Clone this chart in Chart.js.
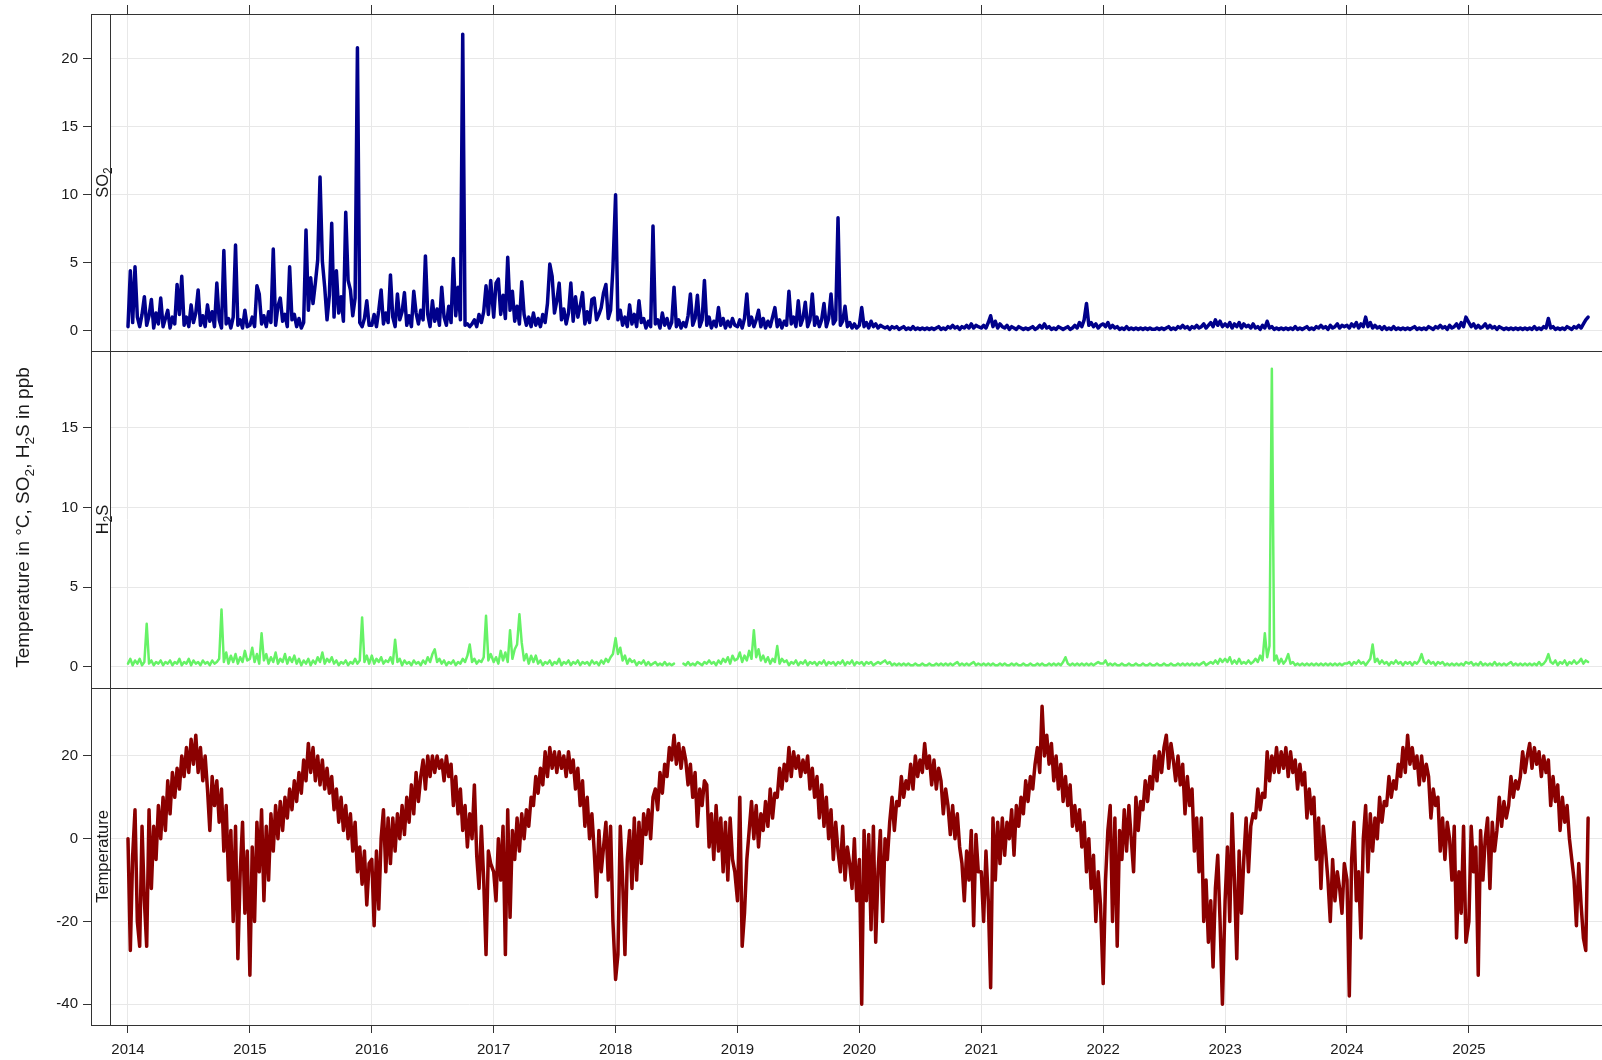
<!DOCTYPE html>
<html>
<head>
<meta charset="utf-8">
<title>Temperature, SO2 and H2S</title>
<script src="https://cdn.jsdelivr.net/npm/chart.js@4.4.1/dist/chart.umd.min.js"></script>
<style>
  html, body { margin: 0; padding: 0; background: #fff; }
  #wrap { width: 1602px; height: 1060px; }
</style>
</head>
<body>
<div id="wrap"><canvas id="chart" width="1602" height="1060"></canvas></div>
<script>
// weekly values (52 per year)
const years = [2014, 2015, 2016, 2017, 2018, 2019, 2020, 2021, 2022, 2023, 2024, 2025];
const yearTicks = [2014, 2015, 2016, 2017, 2018, 2019, 2020, 2021, 2022, 2023, 2024, 2025];
const so2Ticks = [0, 5, 10, 15, 20];
const h2sTicks = [0, 5, 10, 15];
const tempTicks = [-40, -20, 0, 20];

// SO2 (ppb)
const so2_2014 = [0.3,4.4,0.6,4.7, 1.0,0.3,1.2,2.5, 0.4,1.1,2.3,0.2,1.3, 0.5,2.4,0.3,0.9, 1.5,0.2,1.0,0.5,3.4, 1.2,4.0,0.4,1.0, 0.3,1.9,0.6,1.3,3.0, 0.4,1.1,0.3,1.9, 0.7,1.4,0.3,3.5, 0.8,0.2,5.9,0.5,0.9, 0.2,1.0,6.3,0.4, 0.8,0.2,1.5,0.3];
const so2_2015 = [0.4,1.0,0.3,3.3, 2.7,0.5,1.1,0.3, 1.4,0.6,6.0,0.4,1.8, 2.4,0.7,1.2,0.3, 4.7,0.8,1.2,0.3,0.9, 0.2,0.6,7.4,1.5, 3.9,2.0,3.5,5.2,11.3, 5.1,3.2,0.8,2.6, 7.9,1.0,4.4,1.3, 2.5,0.7,8.7,3.7,3.0, 1.1,2.4,20.8,0.6, 0.3,0.9,2.2,0.4];
const so2_2016 = [0.4,1.2,0.3,1.5, 3.0,0.5,1.3,0.6, 4.1,1.0,0.3,2.7,0.8, 1.4,2.8,0.4,1.1, 0.3,2.9,1.3,0.5,1.5, 0.8,5.5,1.2,0.3, 2.2,0.7,1.6,0.4,3.2, 1.0,0.4,1.8,0.6, 5.3,1.1,3.2,0.8, 21.8,0.4,0.5,0.3,0.5, 0.8,0.3,1.2,0.6, 1.4,3.3,1.2,3.7];
const so2_2017 = [1.0,3.5,3.8,1.2, 2.6,0.9,5.4,1.5, 2.9,0.7,1.8,0.5,3.6, 1.2,0.4,1.0,0.3, 1.3,0.4,0.9,0.3,1.2, 0.6,2.0,4.9,4.0, 1.3,2.2,3.5,0.8,1.6, 0.5,1.3,3.5,0.7, 2.5,1.0,1.8,2.8, 0.5,1.4,0.6,2.3,2.4, 0.8,1.2,1.7,2.8, 3.4,0.9,1.5,4.6];
const so2_2018 = [10.0,0.8,1.5,0.4, 1.0,0.3,1.9,0.5, 1.2,0.3,2.2,0.6,0.9, 0.2,0.7,0.3,7.7, 0.5,0.8,0.2,1.3,0.4, 0.9,0.2,0.6,3.2, 0.3,0.8,0.2,0.6,0.3, 1.1,2.7,0.4,0.9, 2.6,0.3,0.8,3.7, 0.4,1.0,0.2,0.7,0.3, 1.7,0.4,0.9,0.2, 0.7,0.3,0.9,0.4];
const so2_2019 = [0.3,0.8,0.2,0.9, 2.7,0.4,1.0,0.3, 0.8,1.5,0.3,0.9,0.2, 0.7,0.3,1.0,1.7, 0.3,0.8,0.2,0.7,0.4, 2.9,0.5,1.0,0.3, 2.2,0.4,0.9,2.1,0.3, 0.8,2.7,0.4,1.0, 0.3,0.8,2.0,0.3, 0.9,2.7,0.5,0.8,8.3, 0.4,0.7,1.8,0.3, 0.6,0.2,0.5,0.2];
const so2_2020 = [0.4,1.7,0.3,0.6, 0.2,0.7,0.3,0.5, 0.2,0.4,0.3,0.2,0.3, 0.1,0.3,0.2,0.3, 0.1,0.2,0.3,0.1,0.2, 0.1,0.3,0.1,0.2, 0.1,0.2,0.1,0.2,0.1, 0.2,0.1,0.2,0.3, 0.1,0.2,0.1,0.3, 0.2,0.4,0.2,0.3,0.1, 0.3,0.2,0.4,0.2, 0.5,0.2,0.4,0.3];
const so2_2021 = [0.2,0.4,0.2,0.6, 1.1,0.3,0.7,0.2, 0.5,0.3,0.2,0.4,0.1, 0.3,0.2,0.1,0.3, 0.2,0.1,0.2,0.1,0.2, 0.3,0.1,0.2,0.4, 0.2,0.5,0.2,0.3,0.1, 0.2,0.1,0.3,0.2, 0.1,0.2,0.3,0.1, 0.2,0.4,0.2,0.6,0.3, 0.8,2.0,0.4,0.6, 0.3,0.5,0.2,0.4];
const so2_2022 = [0.5,0.3,0.6,0.2, 0.4,0.2,0.3,0.1, 0.2,0.1,0.3,0.1,0.2, 0.1,0.2,0.1,0.2, 0.1,0.2,0.1,0.2,0.1, 0.1,0.2,0.1,0.2, 0.1,0.2,0.3,0.1,0.2, 0.1,0.3,0.2,0.4, 0.2,0.3,0.1,0.3, 0.2,0.4,0.2,0.3,0.5, 0.2,0.4,0.6,0.3, 0.8,0.4,0.7,0.3];
const so2_2023 = [0.5,0.3,0.6,0.2, 0.5,0.3,0.6,0.2, 0.5,0.3,0.4,0.2,0.5, 0.2,0.3,0.1,0.4, 0.2,0.7,0.2,0.3,0.1, 0.2,0.1,0.2,0.1, 0.2,0.1,0.2,0.1,0.3, 0.1,0.2,0.1,0.2, 0.3,0.1,0.2,0.1, 0.3,0.2,0.4,0.2,0.3, 0.1,0.4,0.2,0.3, 0.5,0.2,0.4,0.3];
const so2_2024 = [0.4,0.2,0.5,0.3, 0.6,0.2,0.5,0.3, 1.0,0.3,0.6,0.2,0.4, 0.2,0.3,0.1,0.3, 0.1,0.2,0.1,0.3,0.1, 0.2,0.1,0.2,0.1, 0.2,0.1,0.2,0.3,0.1, 0.2,0.1,0.2,0.1, 0.3,0.2,0.1,0.3, 0.2,0.4,0.2,0.3,0.1, 0.4,0.2,0.3,0.5, 0.2,0.6,0.3,1.0];
const so2_2025 = [0.6,0.3,0.5,0.2, 0.4,0.2,0.3,0.5, 0.2,0.4,0.2,0.3,0.1, 0.3,0.2,0.1,0.2, 0.1,0.2,0.1,0.2,0.1, 0.2,0.1,0.2,0.1, 0.2,0.1,0.3,0.1,0.2, 0.1,0.3,0.2,0.9, 0.2,0.3,0.1,0.2, 0.1,0.2,0.1,0.3,0.2, 0.1,0.3,0.2,0.4, 0.2,0.5,0.8,1.0];

// H2S (ppb), null = no data
const h2s_2014 = [0.2,0.5,0.1,0.4, 0.2,0.5,0.1,0.3, 2.7,0.2,0.4,0.1,0.3, 0.2,0.4,0.1,0.3, 0.2,0.4,0.1,0.3,0.2, 0.5,0.1,0.3,0.2, 0.5,0.1,0.4,0.2,0.3, 0.1,0.4,0.2,0.3, 0.1,0.4,0.2,0.3, 0.5,3.6,0.3,0.9,0.2, 0.7,0.3,0.8,0.2, 0.6,0.3,1.0,0.4];
const h2s_2015 = [0.5,1.2,0.3,0.8, 0.2,2.1,0.4,0.8, 0.2,0.6,0.3,0.9,0.2, 0.5,0.3,0.8,0.2, 0.6,0.3,0.7,0.2,0.5, 0.1,0.4,0.2,0.5, 0.1,0.4,0.2,0.6,0.3, 0.9,0.2,0.5,0.3, 0.6,0.2,0.4,0.1, 0.3,0.2,0.4,0.1,0.3, 0.2,0.5,0.2,0.4, 3.1,0.3,0.7,0.2];
const h2s_2016 = [0.7,0.2,0.5,0.3, 0.6,0.2,0.4,0.3, 0.6,0.2,1.7,0.3,0.5, 0.1,0.4,0.2,0.3, 0.1,0.4,0.2,0.3,0.1, 0.4,0.2,0.6,0.3, 0.8,1.1,0.3,0.5,0.2, 0.4,0.1,0.3,0.2, 0.4,0.1,0.3,0.2, 0.5,0.3,0.7,1.4,0.3, 0.5,0.2,0.4,0.3, 0.6,3.2,0.4,0.8];
const h2s_2017 = [0.3,0.6,0.2,1.0, 0.4,0.9,0.3,2.3, 0.5,1.1,1.4,3.3,1.5, 0.4,0.8,0.2,0.7, 0.3,0.7,0.2,0.4,0.1, 0.3,0.2,0.4,0.1, 0.3,0.2,0.5,0.1,0.3, 0.2,0.4,0.1,0.3, 0.2,0.4,0.1,0.3, 0.2,0.3,0.1,0.4,0.2, 0.3,0.1,0.4,0.2, 0.5,0.3,0.6,0.8];
const h2s_2018 = [1.8,0.8,1.2,0.4, 0.7,0.2,0.5,0.3, 0.4,0.1,0.3,0.2,0.4, 0.1,0.3,0.1,0.2, 0.3,0.1,0.2,0.1,0.3, 0.1,0.2,0.1,0.2, null,null,null,0.2,0.1, 0.3,0.1,0.2,0.1, 0.3,0.2,0.1,0.3, 0.2,0.4,0.2,0.3,0.1, 0.4,0.2,0.5,0.3, 0.6,0.2,0.7,0.4];
const h2s_2019 = [0.5,0.9,0.3,0.7, 0.4,1.0,0.5,2.3, 0.6,1.1,0.4,0.7,0.3, 0.6,0.2,0.5,0.3, 1.3,0.2,0.5,0.3,0.4, 0.1,0.3,0.2,0.4, 0.1,0.3,0.2,0.4,0.1, 0.3,0.2,0.3,0.1, 0.3,0.2,0.4,0.1, 0.3,0.2,0.3,0.1,0.3, 0.2,0.4,0.1,0.3, 0.2,0.4,0.1,0.3];
const h2s_2020 = [0.2,0.3,0.1,0.3, 0.2,0.3,0.1,0.2, 0.3,0.2,0.3,0.4,0.2, 0.3,0.1,0.2,0.1, 0.2,0.1,0.2,0.1,0.2, 0.1,0.1,0.2,0.1, 0.1,0.2,0.1,0.1,0.2, 0.1,0.1,0.2,0.1, 0.2,0.1,0.2,0.1, 0.2,0.1,0.2,0.3,0.1, 0.2,0.1,0.2,0.1, 0.2,0.3,0.1,0.2];
const h2s_2021 = [0.1,0.2,0.1,0.2, 0.1,0.2,0.1,0.1, 0.2,0.1,0.2,0.1,0.1, 0.2,0.1,0.2,0.1, 0.1,0.2,0.1,0.1,0.2, 0.1,0.1,0.2,0.1, 0.2,0.1,0.1,0.2,0.1, 0.2,0.1,0.2,0.1, 0.3,0.6,0.2,0.1, 0.2,0.1,0.2,0.1,0.2, 0.1,0.2,0.1,0.2, 0.1,0.2,0.3,0.2];
const h2s_2022 = [0.2,0.4,0.1,0.2, 0.1,0.2,0.1,0.1, 0.2,0.1,0.1,0.2,0.1, 0.1,0.2,0.1,0.1, 0.2,0.1,0.1,0.2,0.1, 0.1,0.2,0.1,0.1, 0.2,0.1,0.1,0.2,0.1, 0.1,0.2,0.1,0.2, 0.1,0.2,0.1,0.2, 0.1,0.2,0.1,0.2,0.3, 0.1,0.2,0.3,0.2, 0.4,0.2,0.5,0.3];
const h2s_2023 = [0.5,0.3,0.6,0.2, 0.4,0.2,0.5,0.2, 0.3,0.2,0.4,0.2,0.3, 0.5,0.3,0.7,0.4, 2.1,0.6,1.3,18.7,0.4, 0.7,0.2,0.5,0.2, 0.4,0.8,0.2,0.3,0.1, 0.2,0.1,0.2,0.1, 0.2,0.1,0.2,0.1, 0.2,0.1,0.2,0.1,0.2, 0.1,0.2,0.1,0.2, 0.1,0.2,0.1,0.2];
const h2s_2024 = [0.2,0.3,0.1,0.3, 0.2,0.4,0.2,0.3, 0.1,0.3,0.5,1.4,0.3, 0.5,0.2,0.4,0.2, 0.3,0.1,0.3,0.2,0.4, 0.2,0.3,0.1,0.3, 0.2,0.3,0.1,0.3,0.2, 0.4,0.8,0.3,0.2, 0.4,0.2,0.3,0.1, 0.3,0.2,0.3,0.1,0.2, 0.1,0.2,0.1,0.2, 0.1,0.2,0.1,0.3];
const h2s_2025 = [0.2,0.3,0.1,0.2, 0.1,0.3,0.1,0.2, 0.1,0.2,0.1,0.3,0.1, 0.2,0.1,0.2,0.1, 0.2,0.3,0.1,0.2,0.1, 0.2,0.1,0.2,0.1, 0.2,0.1,0.2,0.1,0.3, 0.1,0.2,0.4,0.8, 0.3,0.2,0.4,0.1, 0.3,0.2,0.4,0.1,0.3, 0.2,0.4,0.2,0.3, 0.5,0.2,0.4,0.3];

// Temperature (°C)
const temp_2014 = [0,-27,-4,7, -20,-26,3,-15, -26,7,-12,3,-5, 8,0,10,2, 14,6,16,10,17, 12,20,15,22, 16,24,18,25,16, 22,14,20,12, 2,15,8,14, 4,12,-3,8,-10, 2,-20,3,-29, -8,4,-18,-3];
const temp_2015 = [-33,-2,-20,4, -8,7,-15,3, -10,6,-3,8,0, 9,2,10,5, 12,7,14,9,16, 11,19,14,23, 16,22,14,20,13, 19,12,17,11, 15,7,12,4, 10,2,8,0,6, -3,4,-8,-2, -11,-3,-16,-6];
const temp_2016 = [-5,-21,-3,-17, 0,7,-8,5, -6,5,-3,6,0, 8,1,10,4, 13,6,16,9,15, 19,12,20,15, 20,16,20,17,19, 14,20,15,18, 8,15,6,12, 2,8,-2,6,0, 13,-4,-12,3, -10,-28,-3,-6];
const temp_2017 = [-8,-15,0,-10, 3,-28,7,-19, 2,-5,5,-3,6, 0,7,3,10, 8,15,11,17,13, 21,15,22,17, 21,16,21,17,20, 15,21,16,19, 12,17,8,14, 3,10,0,6,-3, -14,2,-8,-2, 4,-10,3,-20];
const temp_2018 = [-34,-28,3,-10, -28,-5,2,-12, 5,-10,4,-6,6, 1,7,0,10, 12,7,16,11,18, 15,22,19,25, 18,23,17,22,19, 13,18,10,16, 3,12,8,14, 13,-2,6,-5,8, -3,5,-8,4, -10,5,-5,-8];
const temp_2019 = [-15,10,-26,-18, -5,2,9,0, 8,-2,6,2,9, 3,12,5,11, 10,17,12,18,14, 22,15,21,17, 20,15,19,16,20, 12,17,10,15, 5,13,3,10, 0,7,-5,4,-3, -8,3,-10,-2, -6,-12,0,-15];
const temp_2020 = [-5,-40,2,-15, 1,-22,3,-25, -8,2,-20,0,-5, 4,10,2,9, 8,15,10,14,12, 18,12,20,15, 19,16,23,17,20, 13,19,12,17, 14,6,12,8, 1,8,0,6,-2, -6,-15,-3,-10, 2,-21,1,-8];
const temp_2021 = [-8,-20,-3,-15, -36,5,-10,4, -6,5,-4,4,0, 7,-4,8,3, 10,6,14,9,15, 12,18,22,16, 32,20,25,18,23, 14,20,12,18, 9,15,8,13, 3,8,2,7,-2, 4,-8,0,-12, -4,-20,-8,-16];
const temp_2022 = [-35,-10,2,8, -20,5,-26,2, -5,7,-3,8,0, -8,10,2,9, 7,14,9,15,12, 20,14,21,16, 22,25,17,23,19, 14,20,13,18, 6,15,8,12, -3,5,-8,5,-20, -10,-25,-15,-31, -12,-4,-20,-40];
const temp_2023 = [-15,-2,-20,6, -10,-29,-3,-18, -5,5,-8,3,6, 5,12,7,11, 10,21,14,20,16, 22,16,21,17, 22,15,21,16,19, 12,18,13,16, 5,12,6,10, -5,5,-12,3,-3, -10,-20,-5,-15, -8,-12,-18,-6];
const temp_2024 = [-10,-38,-5,4, -15,-8,-24,0, 8,-8,6,-3,5, 0,10,4,9, 8,15,10,14,12, 18,15,22,16, 25,18,22,17,20, 13,20,14,18, 15,5,12,8, 10,-3,5,-5,4, 0,-10,3,-24, -8,-18,3,-25];
const temp_2025 = [-20,3,-8,-2, -33,2,-10,0, 5,-12,4,-3,2, 10,3,9,5, 8,15,10,14,12, 15,21,16,20, 23,17,22,18,21, 15,20,16,19, 8,15,9,13, 2,10,4,8,0, -5,-10,-21,-6, -16,-24,-27,5];

const so2Years = [so2_2014, so2_2015, so2_2016, so2_2017, so2_2018, so2_2019, so2_2020, so2_2021, so2_2022, so2_2023, so2_2024, so2_2025];
const h2sYears = [h2s_2014, h2s_2015, h2s_2016, h2s_2017, h2s_2018, h2s_2019, h2s_2020, h2s_2021, h2s_2022, h2s_2023, h2s_2024, h2s_2025];
const tempYears = [temp_2014, temp_2015, temp_2016, temp_2017, temp_2018, temp_2019, temp_2020, temp_2021, temp_2022, temp_2023, temp_2024, temp_2025];

// week index -> decimal year
function toPoints(perYear) {
  const pts = [];
  perYear.forEach((arr, i) => {
    const yr = years[i];
    const len = (yr % 4 === 0) ? 366 : 365;
    arr.forEach((v, w) => pts.push({ x: yr + (w * 7) / len, y: v }));
  });
  return pts;
}

const FONT = "'Liberation Sans', Arial, Helvetica, sans-serif";
const AXIS_COLOR = '#333333';
const GRID_COLOR = '#e8e8e8';
const TEXT_COLOR = '#1a1a1a';
const STRIP_W = 19;

Chart.defaults.font.family = FONT;
Chart.defaults.font.size = 15;
Chart.defaults.color = TEXT_COLOR;

// rotated text with subscripts, reading bottom to top
function drawVertical(ctx, parts, baseX, centerY, size) {
  const subSize = size * 0.72;
  ctx.save();
  ctx.translate(baseX, centerY);
  ctx.rotate(-Math.PI / 2);
  ctx.fillStyle = TEXT_COLOR;
  ctx.textBaseline = 'alphabetic';
  ctx.textAlign = 'left';
  let total = 0;
  for (const [t, sub] of parts) {
    ctx.font = (sub ? subSize : size) + 'px ' + FONT;
    total += ctx.measureText(t).width;
  }
  let pos = -total / 2;
  for (const [t, sub] of parts) {
    ctx.font = (sub ? subSize : size) + 'px ' + FONT;
    ctx.fillText(t, pos, sub ? size * 0.27 : 0);
    pos += ctx.measureText(t).width;
  }
  ctx.restore();
}

const stripLabels = [
  ['ySO2', [['SO', false], ['2', true]]],
  ['yH2S', [['H', false], ['2', true], ['S', false]]],
  ['yTemp', [['Temperature', false]]]
];
const yTitle = [['Temperature in °C, SO', false], ['2', true], [', H', false], ['2', true], ['S in ppb', false]];

const latticeFrame = {
  id: 'latticeFrame',
  beforeDatasetsDraw(chart) {
    const { ctx, chartArea: a } = chart;
    ctx.save();
    ctx.fillStyle = '#ffffff';
    ctx.fillRect(a.left + 1, a.top + 1, STRIP_W - 1, a.bottom - a.top - 2);
    ctx.restore();
  },
  afterDatasetsDraw(chart) {
    const { ctx, chartArea: a, scales } = chart;
    const sx = Math.round(a.left + STRIP_W) + 0.5;
    ctx.save();
    ctx.strokeStyle = AXIS_COLOR;
    ctx.lineWidth = 1;
    ctx.beginPath();
    ctx.moveTo(sx, a.top);
    ctx.lineTo(sx, a.bottom);
    for (const id of ['ySO2', 'yH2S']) {
      const yb = Math.round(scales[id].bottom) + 0.5;
      ctx.moveTo(a.left, yb);
      ctx.lineTo(a.right, yb);
    }
    ctx.stroke();
    ctx.restore();

    for (const [id, parts] of stripLabels) {
      const s = scales[id];
      drawVertical(ctx, parts, a.left + 16.5, (s.top + s.bottom) / 2, 16.5);
    }
    drawVertical(ctx, yTitle, 28.5, (a.top + a.bottom) / 2 - 2, 19);
  }
};

function yAxis(min, max, ticks, weight) {
  return {
    type: 'linear',
    position: 'left',
    stack: 'panels',
    stackWeight: 1,
    weight: weight,
    min: min,
    max: max,
    afterBuildTicks: s => { s.ticks = ticks.map(v => ({ value: v })); },
    afterFit: s => { s.width = 91; },
    grid: { color: GRID_COLOR, tickColor: AXIS_COLOR, tickLength: 8, lineWidth: 1 },
    border: { color: AXIS_COLOR, width: 1 },
    ticks: { padding: 5, callback: v => String(v) }
  };
}

const xMin = 2013.6965;
const xMax = 2026.092;

new Chart(document.getElementById('chart'), {
  type: 'line',
  data: {
    datasets: [
      {
        label: 'SO2',
        data: toPoints(so2Years),
        xAxisID: 'x',
        yAxisID: 'ySO2',
        borderColor: '#00008B',
        borderWidth: 3.5
      },
      {
        label: 'H2S',
        data: toPoints(h2sYears),
        xAxisID: 'x',
        yAxisID: 'yH2S',
        borderColor: '#66F266',
        borderWidth: 2.5
      },
      {
        label: 'Temperature',
        data: toPoints(tempYears),
        xAxisID: 'x',
        yAxisID: 'yTemp',
        borderColor: '#8B0000',
        borderWidth: 3.5
      }
    ]
  },
  options: {
    responsive: false,
    animation: false,
    events: [],
    layout: { padding: 0 },
    elements: {
      point: { radius: 0 },
      line: { tension: 0, borderJoinStyle: 'round', borderCapStyle: 'round', fill: false }
    },
    spanGaps: false,
    plugins: {
      legend: { display: false },
      tooltip: { enabled: false },
      title: { display: false }
    },
    scales: {
      x: {
        type: 'linear',
        position: 'bottom',
        min: xMin,
        max: xMax,
        afterBuildTicks: s => { s.ticks = yearTicks.map(v => ({ value: v })); },
        afterFit: s => { s.height = 35; },
        grid: { color: GRID_COLOR, tickColor: AXIS_COLOR, tickLength: 8 },
        border: { color: AXIS_COLOR },
        ticks: { padding: 8, maxRotation: 0, autoSkip: false, callback: v => String(v) }
      },
      xTop: {
        type: 'linear',
        position: 'top',
        min: xMin,
        max: xMax,
        afterBuildTicks: s => { s.ticks = yearTicks.map(v => ({ value: v })); },
        afterFit: s => { s.height = 13; },
        grid: { drawOnChartArea: false, tickColor: AXIS_COLOR, tickLength: 9 },
        border: { color: AXIS_COLOR },
        ticks: { display: false }
      },
      ySO2: yAxis(-1.49, 23.28, so2Ticks, 3),
      yH2S: yAxis(-1.33, 19.82, h2sTicks, 2),
      yTemp: yAxis(-45.0, 36.4, tempTicks, 1)
    }
  },
  plugins: [latticeFrame]
});
</script>
</body>
</html>
